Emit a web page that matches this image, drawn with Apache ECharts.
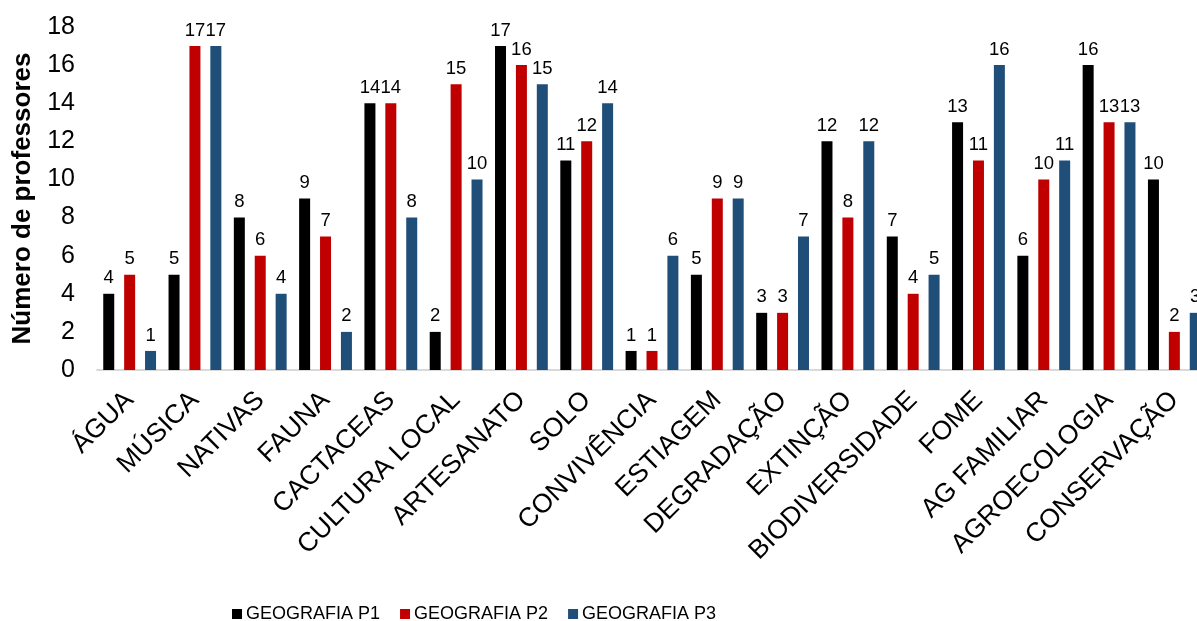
<!DOCTYPE html>
<html>
<head>
<meta charset="utf-8">
<script src="https://cdn.jsdelivr.net/npm/echarts@6/dist/echarts.min.js"></script>
<style>html,body{margin:0;padding:0;background:#fff;}#c{width:1197px;height:621px;}</style>
</head>
<body>
<div id="c"></div>
<script>
const categories = ['ÁGUA','MÚSICA','NATIVAS','FAUNA','CACTACEAS','CULTURA LOCAL','ARTESANATO','SOLO','CONVIVÊNCIA','ESTIAGEM','DEGRADAÇÃO','EXTINÇÃO','BIODIVERSIDADE','FOME','AG FAMILIAR','AGROECOLOGIA','CONSERVAÇÃO'];
const geoP1 = [4,5,8,9,14,2,17,11,1,5,3,12,7,13,6,16,10];
const geoP2 = [5,17,6,7,14,15,16,12,1,9,3,8,4,11,10,13,2];
const geoP3 = [1,17,4,2,8,10,15,14,6,9,7,12,5,16,11,13,3];
const seriesNames = ['GEOGRAFIA P1','GEOGRAFIA P2','GEOGRAFIA P3'];
const yTicks = {min:0, max:18, interval:2};

const colors = ['#000000','#C00000','#1F4E79'];
const font = 'Arial, "Liberation Sans", sans-serif';
const chart = echarts.init(document.getElementById('c'));
const mk = (name, data, i) => ({
  name, type:'bar', data, barWidth:11, barGap:'90%',
  itemStyle:{color:colors[i]},
  label:{show:true, position:'top', distance:6, color:'#000', fontSize:18.5, fontFamily:font}
});
chart.setOption({
  animation:false,
  color:colors,
  grid:{left:97, top:27, right:-10, bottom:251, containLabel:false, outerBoundsMode:'none'},
  legend:{
    left:227, top:600, itemWidth:10, itemHeight:10, itemGap:20, icon:'rect',
    textStyle:{fontSize:18, fontFamily:font, color:'#000', padding:[0,0,0,-1]},
    data:seriesNames
  },
  xAxis:{
    type:'category', data:categories,
    axisLine:{lineStyle:{color:'#d9d9d9', width:2}},
    axisTick:{show:false},
    axisLabel:{rotate:45, interval:0, margin:26, fontSize:26.5, color:'#000', fontFamily:font}
  },
  yAxis:{
    type:'value', min:yTicks.min, max:yTicks.max, interval:yTicks.interval,
    name:'Número de professores', nameLocation:'middle', nameGap:61,
    nameTextStyle:{fontSize:26, fontWeight:'bold', color:'#000', fontFamily:font},
    axisLine:{show:false}, axisTick:{show:false}, splitLine:{show:false},
    axisLabel:{fontSize:25, color:'#000', margin:22, fontFamily:font}
  },
  series:[mk(seriesNames[0],geoP1,0), mk(seriesNames[1],geoP2,1), mk(seriesNames[2],geoP3,2)]
});
</script>
</body>
</html>
